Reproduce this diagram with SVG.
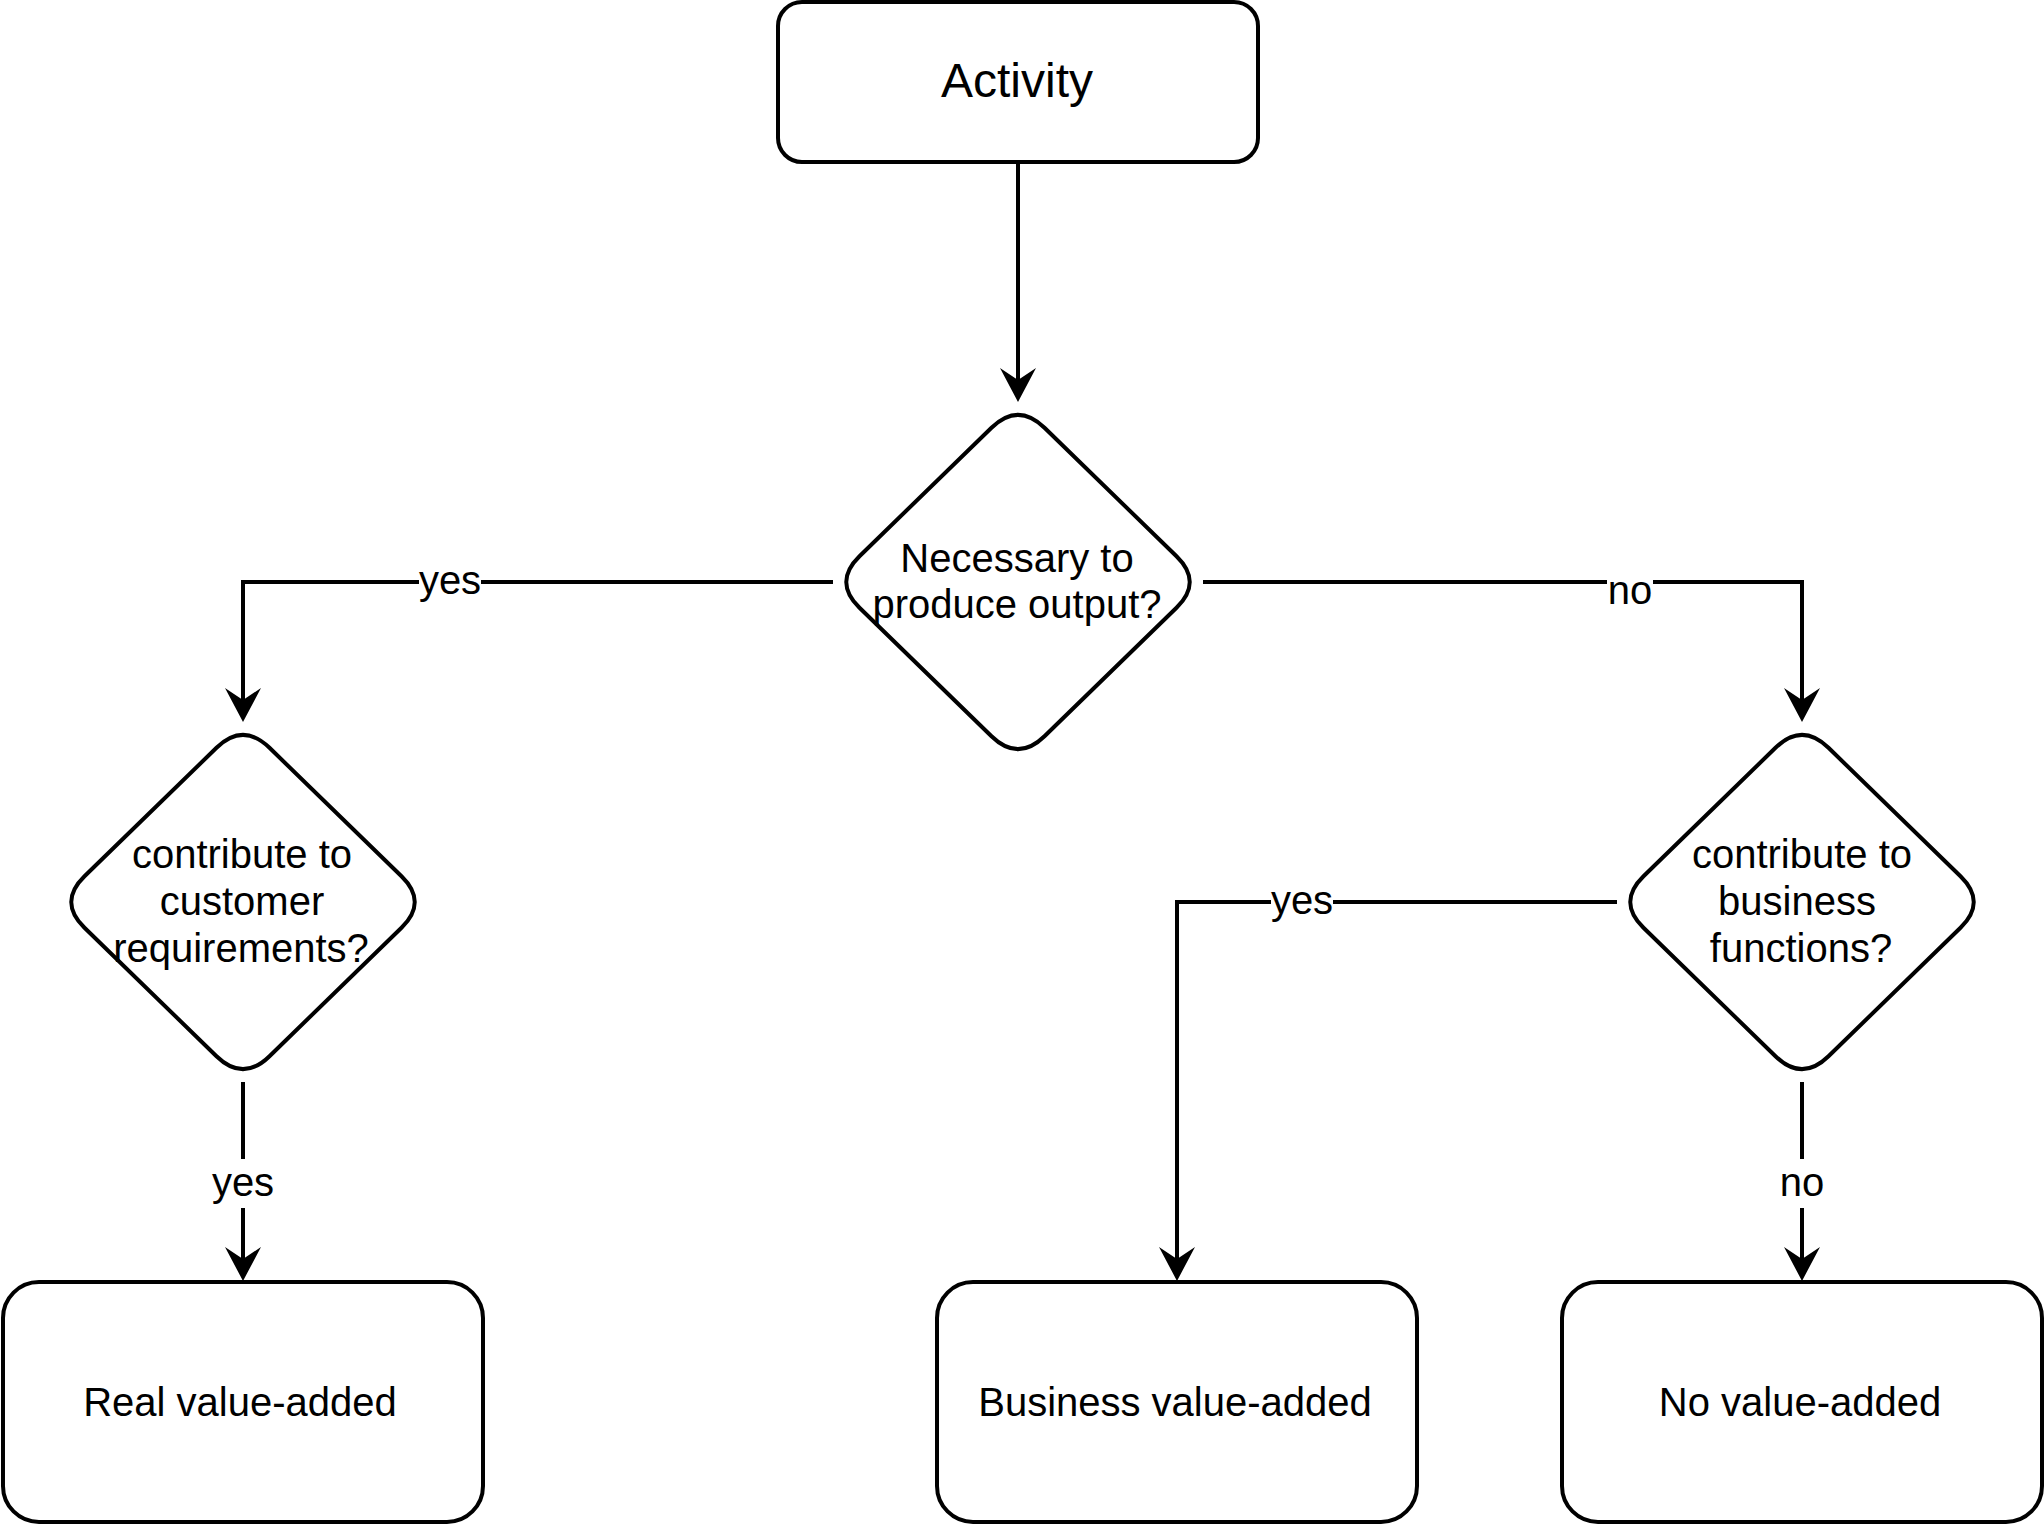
<svg xmlns="http://www.w3.org/2000/svg" width="2044" height="1524" viewBox="0 0 2044 1524">
<style>
.shape{fill:#fff;stroke:#000;stroke-width:4}
.edge{fill:none;stroke:#000;stroke-width:4;marker-end:url(#arr)}
.t{font-family:"Liberation Sans",Arial,sans-serif;font-size:40px;fill:#000;text-anchor:middle}
.big{font-size:48px}
.lbg{fill:#fff;stroke:none}
</style>
<defs>
<marker id="arr" markerUnits="userSpaceOnUse" viewBox="0 0 34 36" markerWidth="34" markerHeight="36" refX="12" refY="18" orient="auto">
<path d="M34,18 L0,0 L12,18 L0,36 Z" fill="#000"/>
</marker>
</defs>
<rect width="2044" height="1524" fill="#fff"/>
<g id="connectors">
<path class="edge" d="M1018,162 L1018,380"/>
<path class="edge" d="M833,582 L243,582 L243,700"/>
<path class="edge" d="M1203,582 L1802,582 L1802,700"/>
<path class="edge" d="M243,1082 L243,1259"/>
<path class="edge" d="M1617,902 L1177,902 L1177,1259"/>
<path class="edge" d="M1802,1082 L1802,1259"/>
<rect class="lbg" x="419" y="562" width="62" height="42"/>
<text class="t" x="450" y="594">yes</text>
<rect class="lbg" x="1607" y="575" width="46" height="42"/>
<text class="t" x="1630" y="604">no</text>
<rect class="lbg" x="1271" y="882" width="62" height="42"/>
<text class="t" x="1302" y="914">yes</text>
<rect class="lbg" x="220" y="1159" width="46" height="49"/>
<text class="t" x="243" y="1196">yes</text>
<rect class="lbg" x="1779" y="1159" width="46" height="49"/>
<text class="t" x="1802" y="1196">no</text>
</g>
<g id="activity">
<rect class="shape" x="778" y="2" width="480" height="160" rx="24" ry="24"/>
<text class="t big" x="1017" y="97">Activity</text>
</g>
<g id="necessary">
<path class="shape" d="M991.5,427.8 Q1018,402 1044.5,427.8 L1176.5,556.2 Q1203,582 1176.5,607.8 L1044.5,736.2 Q1018,762 991.5,736.2 L859.5,607.8 Q833,582 859.5,556.2 Z"/>
<text class="t" x="1017" y="572">Necessary to</text>
<text class="t" x="1017" y="618">produce output?</text>
</g>
<g id="customer">
<path class="shape" d="M216.5,747.8 Q243,722 269.5,747.8 L401.5,876.2 Q428,902 401.5,927.8 L269.5,1056.2 Q243,1082 216.5,1056.2 L84.5,927.8 Q58,902 84.5,876.2 Z"/>
<text class="t" x="242" y="868">contribute to</text>
<text class="t" x="242" y="915">customer</text>
<text class="t" x="241" y="962">requirements?</text>
</g>
<g id="business">
<path class="shape" d="M1775.5,747.8 Q1802,722 1828.5,747.8 L1960.5,876.2 Q1987,902 1960.5,927.8 L1828.5,1056.2 Q1802,1082 1775.5,1056.2 L1643.5,927.8 Q1617,902 1643.5,876.2 Z"/>
<text class="t" x="1802" y="868">contribute to</text>
<text class="t" x="1797" y="915">business</text>
<text class="t" x="1801" y="962">functions?</text>
</g>
<g id="real">
<rect class="shape" x="3" y="1282" width="480" height="240" rx="36" ry="36"/>
<text class="t" x="240" y="1416">Real value-added</text>
</g>
<g id="businessva">
<rect class="shape" x="937" y="1282" width="480" height="240" rx="36" ry="36"/>
<text class="t" x="1175" y="1416">Business value-added</text>
</g>
<g id="nova">
<rect class="shape" x="1562" y="1282" width="480" height="240" rx="36" ry="36"/>
<text class="t" x="1800" y="1416">No value-added</text>
</g>
</svg>
